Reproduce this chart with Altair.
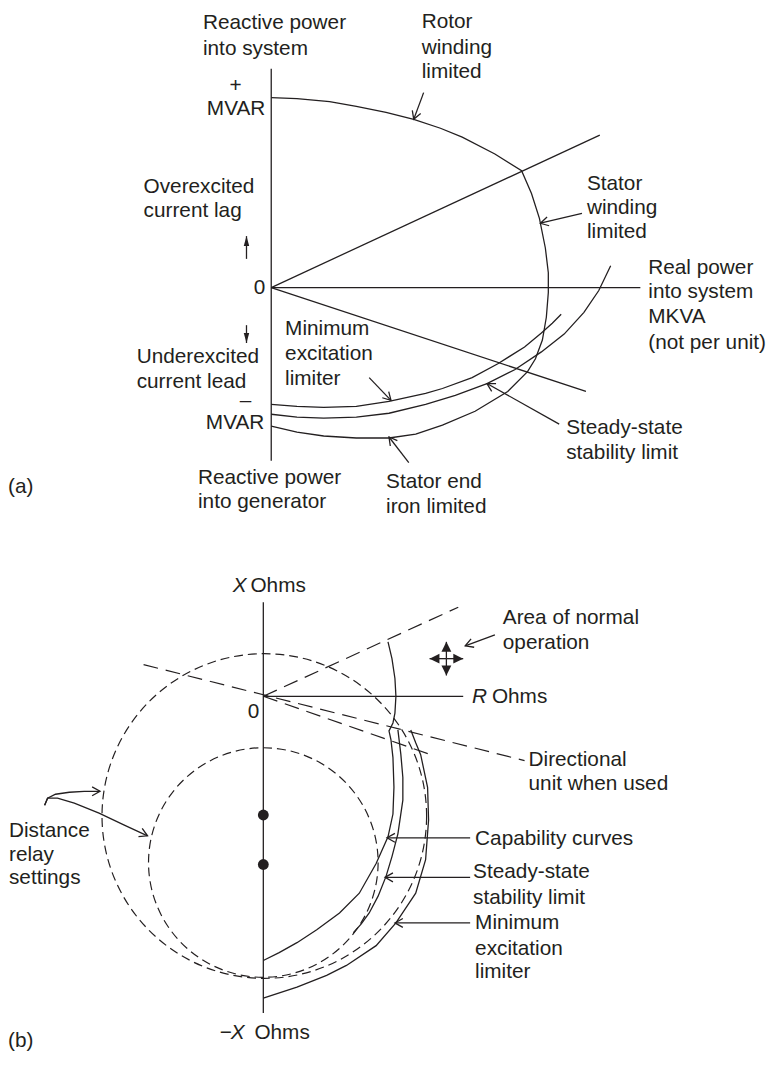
import math
import altair as alt
import pandas as pd

INK = "#231f20"
FONT = "Liberation Sans"
FS = 21

# ---------------- panel (a)  (image pixel coordinates) ----------------
a_q_axis_x = [274, 274]
a_q_axis_y = [64, 460]
a_p_axis_x = [274, 647]
a_p_axis_y = [285, 285]
a_upper_x = [274, 606]
a_upper_y = [285, 131]
a_lower_x = [274, 592]
a_lower_y = [285, 390]

# capability: rotor winding -> stator winding -> stator end iron
a_cap_x = [274, 300, 333, 360, 390, 418, 445, 467, 500, 527, 537, 545, 551, 554,
           554, 552, 548, 541, 533, 513, 480, 447, 420, 393, 360, 327, 300, 274]
a_cap_y = [93, 94, 97, 102, 108, 115, 124, 133, 150, 167, 190, 215, 245, 270,
           290, 315, 338, 357, 370, 390, 410, 424, 433, 437, 437, 435, 431, 425]
# steady-state stability limit
a_ssl_x = [274, 300, 327, 360, 393, 430, 460, 492, 520, 547, 570, 590, 605, 617]
a_ssl_y = [413, 416, 417, 416, 412, 403, 394, 382, 368, 350, 332, 310, 288, 263]
# minimum excitation limiter
a_mel_x = [274, 300, 327, 360, 393, 430, 447, 477, 503, 530, 547, 558, 567]
a_mel_y = [403, 405, 406, 405, 400, 392, 387, 376, 362, 345, 331, 321, 312]

# label arrows (start ... tip)
a_arr_rotor_x = [428, 418]
a_arr_rotor_y = [88, 115]
a_arr_statorw_x = [588, 546]
a_arr_statorw_y = [210, 220]
a_arr_mel_x = [373, 395]
a_arr_mel_y = [376, 399]
a_arr_ssl_x = [565, 492]
a_arr_ssl_y = [423, 382]
a_arr_iron_x = [413, 393]
a_arr_iron_y = [462, 436]
a_arr_up_x = [249, 249]
a_arr_up_y = [256, 233]
a_arr_down_x = [249, 249]
a_arr_down_y = [323, 341]

# ---------------- panel (b) ----------------
b_x_axis_x = [266, 266]
b_x_axis_y = [603, 1018]
b_r_axis_x = [266, 468]
b_r_axis_y = [698, 698]
b_cap_x = [392, 396, 399, 400, 399, 397, 393, 395, 397, 398, 397, 392, 380, 363, 343, 320, 300, 282, 266]
b_cap_y = [643, 660, 680, 698, 715, 725, 733, 742, 760, 790, 817, 840, 867, 897, 917, 934, 947, 957, 965]
b_ssl_x = [402, 405, 407, 407, 402, 396, 390, 382, 373, 365, 357]
b_ssl_y = [732, 757, 780, 803, 837, 860, 880, 900, 917, 928, 937]
b_mel_x = [415, 420, 425, 432, 433, 430, 420, 400, 380, 350, 330, 300, 266]
b_mel_y = [732, 745, 757, 790, 823, 863, 897, 927, 950, 970, 980, 992, 1003]

b_dir_x = [145, 530]
b_dir_y = [666, 763]
b_dash2_x = [266, 435]
b_dash2_y = [698, 757]
b_dash_up_x = [266, 463]
b_dash_up_y = [698, 608]

b_circle_cx = [267, 266]
b_circle_cy = [819, 866]
b_circle_r = [164, 116]
b_dot_x = [266, 266]
b_dot_y = [818, 868]

b_arr_area_x = [500, 470]
b_arr_area_y = [636, 647]
b_arr_cap_x = [475, 391]
b_arr_cap_y = [841, 841]
b_arr_ssl_x = [475, 389]
b_arr_ssl_y = [881, 881]
b_arr_mel_x = [475, 399]
b_arr_mel_y = [927, 927]
b_arr_dist1_x = [45, 48, 56, 70, 85, 101]
b_arr_dist1_y = [808, 801, 797, 795, 794, 794]
b_arr_dist2_x = [45, 48, 58, 75, 100, 125, 149]
b_arr_dist2_y = [808, 801, 801, 806, 816, 828, 839]
b_move_r_x = [451, 468]
b_move_r_y = [660, 660]
b_move_l_x = [451, 434]
b_move_l_y = [660, 660]
b_move_u_x = [451, 451]
b_move_u_y = [660, 643]
b_move_d_x = [451, 451]
b_move_d_y = [660, 677]

# ---------------- texts ----------------
left_text = ["Reactive power", "into system", "Rotor", "winding", "limited",
             "Overexcited", "current lag", "Stator", "winding", "limited",
             "Real power", "into system", "MKVA", "(not per unit)",
             "Minimum", "excitation", "limiter", "Underexcited", "current lead",
             "(a)", "Reactive power", "into generator", "Steady-state", "stability limit",
             "Stator end", "iron limited",
             "Area of normal", "operation", "Ohms", "Directional", "unit when used",
             "Capability curves", "Steady-state", "stability limit",
             "Minimum", "excitation", "limiter",
             "Distance", "relay", "settings", "Ohms", "Ohms", "\u2212", "(b)"]
left_x = [205, 205, 426, 426, 426, 145, 145, 593, 593, 593, 655, 655, 655, 655,
          288, 288, 288, 138, 138, 8, 200, 200, 572, 572, 390, 390,
          508, 508, 497, 534, 534, 480, 478, 478, 480, 480, 480,
          9, 9, 9, 253, 257, 222, 8]
left_y = [18, 44, 17, 43, 67, 183, 208, 180, 205, 229, 265, 290, 315, 341,
          327, 352, 377, 355, 380, 487, 478, 502, 427, 452, 482, 507,
          619, 644, 699, 762, 787, 842, 876, 902, 927, 953, 977,
          834, 858, 882, 587, 1038, 1038, 1046]

italic_text = ["X", "R", "X"]
italic_x = [235, 477, 233]
italic_y = [587, 699, 1038]

right_text = ["MVAR", "0", "MVAR", "0"]
right_x = [268, 268, 267, 262]
right_y = [105, 286, 422, 714]

center_text = ["+", "\u2013"]
center_x = [238, 248]
center_y = [81, 400]

# ---------------- build tables ----------------
solid_lines = {
    "a_q": (a_q_axis_x, a_q_axis_y), "a_p": (a_p_axis_x, a_p_axis_y),
    "a_up": (a_upper_x, a_upper_y), "a_lo": (a_lower_x, a_lower_y),
    "a_cap": (a_cap_x, a_cap_y), "a_ssl": (a_ssl_x, a_ssl_y), "a_mel": (a_mel_x, a_mel_y),
    "b_x": (b_x_axis_x, b_x_axis_y), "b_r": (b_r_axis_x, b_r_axis_y),
    "b_cap": (b_cap_x, b_cap_y), "b_ssl": (b_ssl_x, b_ssl_y), "b_mel": (b_mel_x, b_mel_y),
}
open_arrows = {
    "ar1": (a_arr_rotor_x, a_arr_rotor_y), "ar2": (a_arr_statorw_x, a_arr_statorw_y),
    "ar3": (a_arr_mel_x, a_arr_mel_y), "ar4": (a_arr_ssl_x, a_arr_ssl_y),
    "ar5": (a_arr_iron_x, a_arr_iron_y),
    "br1": (b_arr_area_x, b_arr_area_y), "br2": (b_arr_cap_x, b_arr_cap_y),
    "br3": (b_arr_ssl_x, b_arr_ssl_y), "br4": (b_arr_mel_x, b_arr_mel_y),
    "br5": (b_arr_dist1_x, b_arr_dist1_y), "br6": (b_arr_dist2_x, b_arr_dist2_y),
}
narrow_arrows = {"au": (a_arr_up_x, a_arr_up_y), "ad": (a_arr_down_x, a_arr_down_y)}
wide_arrows = {"mr": (b_move_r_x, b_move_r_y), "ml": (b_move_l_x, b_move_l_y),
               "mu": (b_move_u_x, b_move_u_y), "md": (b_move_d_x, b_move_d_y)}
dashed_lines = {"d1": (b_dir_x, b_dir_y), "d2": (b_dash2_x, b_dash2_y),
                "d3": (b_dash_up_x, b_dash_up_y)}


def rows(d):
    out = []
    for name, (xs, ys) in d.items():
        for i, (x, y) in enumerate(zip(xs, ys)):
            out.append({"id": name, "k": i, "x": x, "y": y})
    return out


def heads(d):
    out = []
    for name, (xs, ys) in d.items():
        ang = math.degrees(math.atan2(ys[-1] - ys[-2], xs[-1] - xs[-2])) % 360
        out.append({"id": name, "x": xs[-1], "y": ys[-1], "ang": ang})
    return out


all_shafts = {**solid_lines, **open_arrows, **narrow_arrows, **wide_arrows}
df_solid = pd.DataFrame(rows(all_shafts))
df_dash = pd.DataFrame(rows(dashed_lines))
df_open = pd.DataFrame(heads(open_arrows))
df_narrow = pd.DataFrame(heads(narrow_arrows))
df_wide = pd.DataFrame(heads(wide_arrows))
# circle symbol: radius = sqrt(size) / 2 ; x/y scales are 1 unit per pixel
df_circ = pd.DataFrame({"x": b_circle_cx, "y": b_circle_cy,
                        "s": [(2 * r) ** 2 for r in b_circle_r]})
df_dots = pd.DataFrame({"x": b_dot_x, "y": b_dot_y})
df_left = pd.DataFrame({"x": left_x, "y": left_y, "t": left_text})
df_ital = pd.DataFrame({"x": italic_x, "y": italic_y, "t": italic_text})
df_right = pd.DataFrame({"x": right_x, "y": right_y, "t": right_text})
df_center = pd.DataFrame({"x": center_x, "y": center_y, "t": center_text})

W, H = 769, 1048
XS = alt.Scale(domain=[8, 8 + W], nice=False, zero=False)
YS = alt.Scale(domain=[8, 8 + H], reverse=True, nice=False, zero=False)
X = alt.X("x:Q", scale=XS, axis=None)
Y = alt.Y("y:Q", scale=YS, axis=None)

solid = alt.Chart(df_solid).mark_line(color=INK, strokeWidth=1.3).encode(
    x=X, y=Y, detail="id:N", order="k:Q")
dashed = alt.Chart(df_dash).mark_line(color=INK, strokeWidth=1.2, strokeDash=[15, 8]).encode(
    x=X, y=Y, detail="id:N", order="k:Q")
circles = alt.Chart(df_circ).mark_point(
    shape="circle", filled=False, color=INK, strokeWidth=1.2, strokeDash=[9, 5], opacity=1
).encode(x=X, y=Y, size=alt.Size("s:Q", scale=None))
dots = alt.Chart(df_dots).mark_circle(size=120, color=INK, opacity=1).encode(x=X, y=Y)
open_heads = alt.Chart(df_open).mark_point(
    shape="M -1.6 -0.9 L 0 0 L -1.6 0.9", size=100, filled=False, color=INK,
    strokeWidth=1.3, opacity=1).encode(x=X, y=Y, angle=alt.Angle("ang:Q", scale=None))
narrow_heads = alt.Chart(df_narrow).mark_point(
    shape="M 0 0 L -2 -0.55 L -2 0.55 Z", size=100, filled=True, color=INK,
    opacity=1).encode(x=X, y=Y, angle=alt.Angle("ang:Q", scale=None))
wide_heads = alt.Chart(df_wide).mark_point(
    shape="M 0 0 L -2 -1 L -2 1 Z", size=100, filled=True, color=INK,
    opacity=1).encode(x=X, y=Y, angle=alt.Angle("ang:Q", scale=None))

tkw = dict(baseline="middle", font=FONT, fontSize=FS, color=INK)
t_left = alt.Chart(df_left).mark_text(align="left", **tkw).encode(x=X, y=Y, text="t:N")
t_ital = alt.Chart(df_ital).mark_text(align="left", fontStyle="italic", **tkw).encode(x=X, y=Y, text="t:N")
t_right = alt.Chart(df_right).mark_text(align="right", **tkw).encode(x=X, y=Y, text="t:N")
t_center = alt.Chart(df_center).mark_text(align="center", **tkw).encode(x=X, y=Y, text="t:N")

chart = alt.layer(
    circles, dashed, solid, dots, open_heads, narrow_heads, wide_heads,
    t_left, t_ital, t_right, t_center
).properties(
    width=W, height=H, autosize=alt.AutoSizeParams(type="none"), padding=0,
    background="white"
).configure_view(stroke=None)

chart.save("out.html", embed_options={"renderer": "svg", "actions": False})
